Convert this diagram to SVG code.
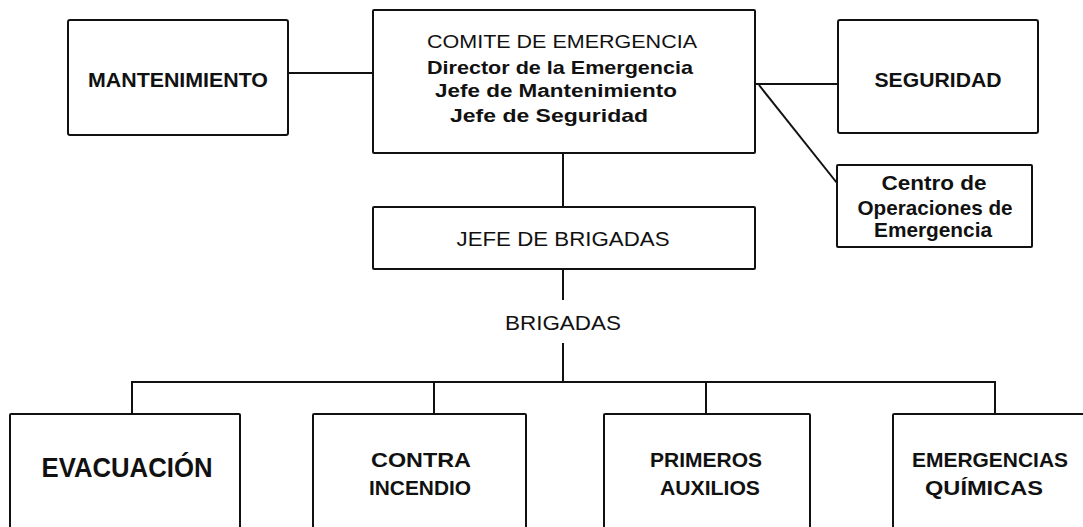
<svg xmlns="http://www.w3.org/2000/svg" width="1083" height="527" viewBox="0 0 1083 527">
<style>
.box{fill:#fff;stroke:#111;stroke-width:2}
.ln{stroke:#111;stroke-width:2;fill:none}
text{font-family:"Liberation Sans",Arial,sans-serif;fill:#111;text-anchor:middle}
.b{font-weight:bold}
</style>
<rect width="1083" height="527" fill="#fff"/>
<g id="connectors">
<line class="ln" x1="288" y1="73" x2="373" y2="73"/>
<line class="ln" x1="755" y1="84" x2="838" y2="84"/>
<line class="ln" x1="759" y1="85" x2="837" y2="183"/>
<line class="ln" x1="563" y1="153" x2="563" y2="207"/>
<line class="ln" x1="563" y1="269" x2="563" y2="300"/>
<line class="ln" x1="563" y1="343" x2="563" y2="382"/>
<polyline class="ln" points="132,413 132,382 995,382 995,415"/>
<line class="ln" x1="434" y1="382" x2="434" y2="414"/>
<line class="ln" x1="706" y1="382" x2="706" y2="414"/>
</g>
<g id="mantenimiento">
<rect class="box" x="68" y="20" width="220" height="115" rx="2"/>
<text class="b" x="178" y="87" font-size="21" textLength="180" lengthAdjust="spacingAndGlyphs">MANTENIMIENTO</text>
</g>
<g id="comite">
<rect class="box" x="373" y="10" width="382" height="143" rx="1"/>
<text x="562" y="47.5" font-size="18.5" textLength="270" lengthAdjust="spacingAndGlyphs">COMITE DE EMERGENCIA</text>
<text class="b" x="560" y="73.5" font-size="18.5" textLength="266" lengthAdjust="spacingAndGlyphs">Director de la Emergencia</text>
<text class="b" x="556" y="97" font-size="18" textLength="242" lengthAdjust="spacingAndGlyphs">Jefe de Mantenimiento</text>
<text class="b" x="549" y="121.5" font-size="18.5" textLength="198" lengthAdjust="spacingAndGlyphs">Jefe de Seguridad</text>
</g>
<g id="seguridad">
<rect class="box" x="838" y="20" width="200" height="113" rx="2"/>
<text class="b" x="938" y="87" font-size="20.5" textLength="127" lengthAdjust="spacingAndGlyphs">SEGURIDAD</text>
</g>
<g id="centro">
<rect class="box" x="837" y="165" width="195" height="82" rx="1"/>
<text class="b" x="934" y="190" font-size="20.5" textLength="105" lengthAdjust="spacingAndGlyphs">Centro de</text>
<text class="b" x="935" y="215" font-size="20.5" textLength="155" lengthAdjust="spacingAndGlyphs">Operaciones de</text>
<text class="b" x="933" y="237" font-size="20.5" textLength="118" lengthAdjust="spacingAndGlyphs">Emergencia</text>
</g>
<g id="jefe-brigadas">
<rect class="box" x="373" y="207" width="382" height="62" rx="1"/>
<text x="563" y="246" font-size="20" textLength="213" lengthAdjust="spacingAndGlyphs">JEFE DE BRIGADAS</text>
</g>
<g id="brigadas-label">
<text x="563" y="330" font-size="21" textLength="116" lengthAdjust="spacingAndGlyphs">BRIGADAS</text>
</g>
<g id="evacuacion">
<rect class="box" x="10" y="414" width="230" height="130" rx="1"/>
<text class="b" x="127" y="477" font-size="27" textLength="171" lengthAdjust="spacingAndGlyphs">EVACUACIÓN</text>
</g>
<g id="contra-incendio">
<rect class="box" x="313" y="414" width="213" height="130" rx="1"/>
<text class="b" x="421" y="467" font-size="21" textLength="100" lengthAdjust="spacingAndGlyphs">CONTRA</text>
<text class="b" x="420" y="495" font-size="21" textLength="102" lengthAdjust="spacingAndGlyphs">INCENDIO</text>
</g>
<g id="primeros-auxilios">
<rect class="box" x="604" y="414" width="206" height="130" rx="1"/>
<text class="b" x="706" y="467" font-size="21" textLength="112" lengthAdjust="spacingAndGlyphs">PRIMEROS</text>
<text class="b" x="710" y="495" font-size="21" textLength="100" lengthAdjust="spacingAndGlyphs">AUXILIOS</text>
</g>
<g id="emergencias-quimicas">
<rect class="box" x="893" y="414" width="204" height="130" rx="1"/>
<text class="b" x="990" y="467" font-size="21" textLength="156" lengthAdjust="spacingAndGlyphs">EMERGENCIAS</text>
<text class="b" x="984" y="495" font-size="21" textLength="118" lengthAdjust="spacingAndGlyphs">QUÍMICAS</text>
</g>
</svg>
